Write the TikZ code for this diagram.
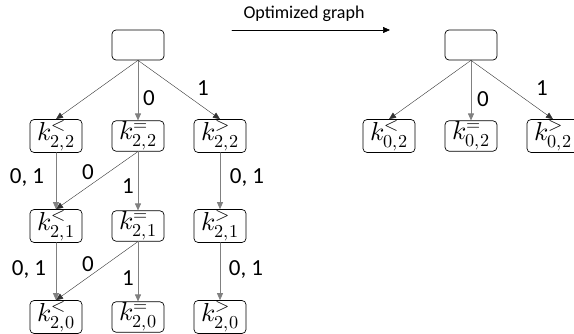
\documentclass[tikz,border=0pt]{standalone}
\usepackage{fontspec}
\usepackage{unicode-math}
\setmathfont{Latin Modern Math}
\setsansfont{Carlito}
\usetikzlibrary{arrows.meta}
\tikzset{
  tila/.style={draw,rounded corners=4pt,line width=0.7pt,minimum width=52pt,
    minimum height=30pt,inner sep=1pt,font=\fontsize{26}{26}\selectfont},
  pysty/.style={->,color=gray,line width=0.8pt},
  vino/.style={->,color=black!80,line width=0.4pt},
  nimi/.style={font=\sffamily\fontsize{23}{24}\selectfont}
}
\begin{document}
\begin{tikzpicture}[line cap=round,line join=round,>={Triangle[length=7pt,width=6pt]},x=1pt,y=-1pt]
\useasboundingbox (0,0) rectangle (574,334);
%vasen puu
\node[tila] (juuri) at (138,45) {};
\foreach \r/\y/\i in {2/136/2,1/226/1,0/317/0}
{
\node[tila] (l\r) at (56,\y) {$k^{<}_{2,\i}$};
\node[tila] (e\r) at (138,\y) {$k^{=}_{2,\i}$};
\node[tila] (g\r) at (220,\y) {$k^{>}_{2,\i}$};
}
\draw[vino] (juuri.south) -- (l2.north);
\draw[pysty] (juuri.south) -- (e2.north);
\draw[vino] (juuri.south) -- (g2.north);
\node[nimi] (a0) at (149,98) {0};
\node[nimi] (a1) at (203,88) {1};
%tasot
\foreach \a/\b in {2/1,1/0}
{
\draw[pysty] (l\a) -- (l\b);
\draw[vino] (e\a.south) -- (l\b.north);
\draw[pysty] (e\a) -- (e\b);
\draw[pysty] (g\a) -- (g\b);
}
\node[nimi] (b01) at (27,178) {0, 1};
\node[nimi] (b0) at (88,172) {0};
\node[nimi] (b1) at (128,186) {1};
\node[nimi] (b02) at (247,178) {0, 1};
\node[nimi] (c01) at (29,270) {0, 1};
\node[nimi] (c0) at (88,264) {0};
\node[nimi] (c1) at (128,278) {1};
\node[nimi] (c02) at (246,270) {0, 1};
%nuoli
\coordinate (n1) at (232,30);
\coordinate (n2) at (390,30);
\draw[->,line width=0.6pt] (n1) -- (n2);
\node[font=\sffamily\fontsize{18}{20}\selectfont] (opt) at (304,14) {Optimized graph};
%oikea puu
\node[tila] (juuri2) at (471,45) {};
\node[tila] (ol) at (389,136) {$k^{<}_{0,2}$};
\node[tila] (oe) at (471,136) {$k^{=}_{0,2}$};
\node[tila] (og) at (553,136) {$k^{>}_{0,2}$};
\draw[vino] (juuri2.south) -- (ol.north);
\draw[pysty] (juuri2.south) -- (oe.north);
\draw[vino] (juuri2.south) -- (og.north);
\node[nimi] (d0) at (483,99) {0};
\node[nimi] (d1) at (542,88) {1};
\end{tikzpicture}
\end{document}
